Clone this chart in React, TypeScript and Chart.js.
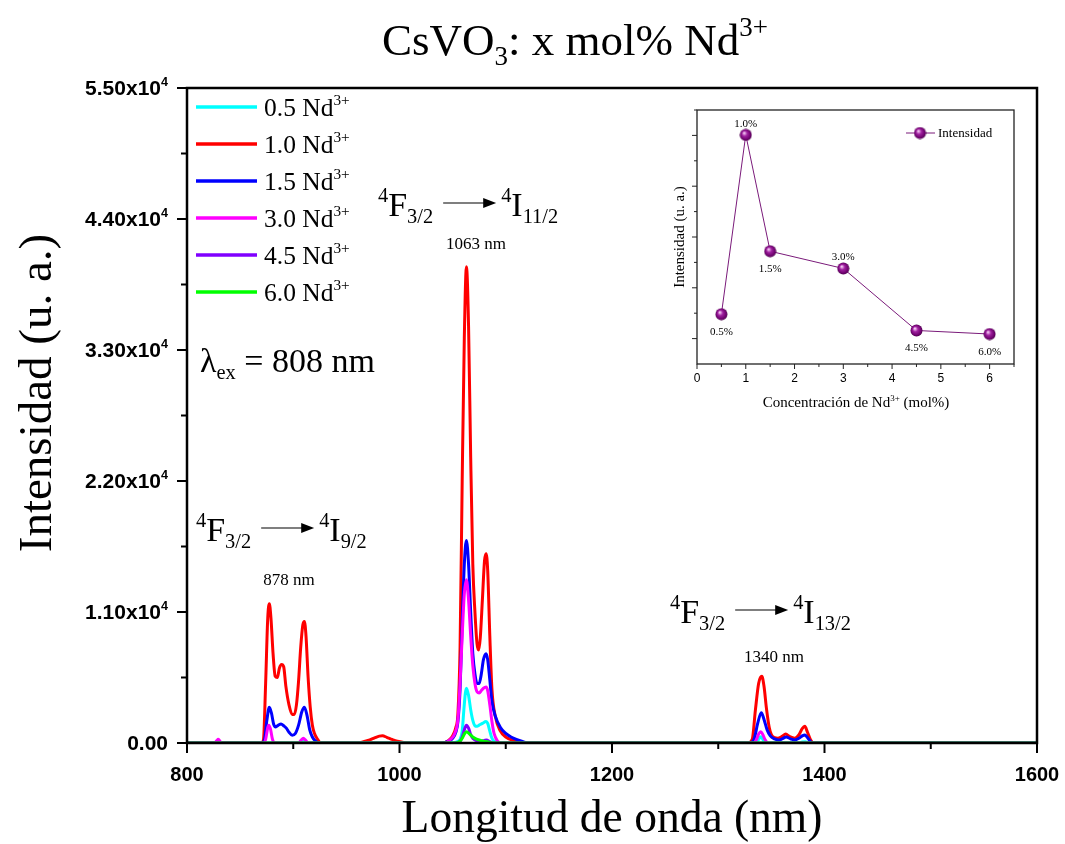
import React, { useEffect, useRef } from "react";
import { Chart, registerables } from "chart.js";
Chart.register(...registerables);

type P = [number, number];
type Part = [string, number]; // 0 normal, 1 sup, 2 sub

const SERIF = '"Liberation Serif", "Times New Roman", serif';
const SANS = '"Liberation Sans", Arial, sans-serif';

// ---------------- data: main spectra (wavelength nm, intensity a.u.) ----------------
const seriesNames = ["0.5", "1.0", "1.5", "3.0", "4.5", "6.0"];
const seriesColors = ["#00FFFF", "#FF0000", "#0000FF", "#FF00FF", "#8000FF", "#00FF00"];

const nd05: P[] = [
  [800, 0], [906, 0], [908, 80], [910, 120], [912, 60], [914, 0],
  [1050, 0], [1054, 100], [1057, 300], [1059, 1000], [1060.5, 2700], [1062, 4200], [1063, 4600], [1065, 4000],
  [1067, 2800], [1069, 1900], [1071, 1450], [1073, 1400], [1075, 1500], [1078, 1650], [1081.5, 1800],
  [1083, 1650], [1085, 1000], [1087, 400], [1090, 100], [1093, 0],
  [1335, 0], [1338, 300], [1340, 530], [1342, 300], [1345, 0],
  [1376, 0], [1379, 80], [1382, 100], [1385, 0], [1600, 0],
];

const nd10: P[] = [
  [800, 0], [870, 0], [872, 300], [874, 5000], [876, 10500], [877.5, 11700], [879, 10500], [881, 7500],
  [883, 5600], [885, 5500], [887, 6300], [889, 6600], [891, 6400], [893, 4800], [896, 3200], [899, 2400],
  [901, 2400], [903, 3200], [905, 5200], [907, 8000], [909, 9900], [910.5, 10200], [912, 9000], [914, 5500],
  [916, 3000], [918, 1500], [920, 800], [923, 300], [926, 0],
  [960, 0], [966, 100], [972, 250], [977, 450], [981, 580], [984, 600], [988, 480], [993, 300], [998, 150],
  [1004, 50], [1010, 0],
  [1040, 0], [1046, 200], [1050, 600], [1053, 1300], [1055, 2500], [1057, 8000], [1059, 22000], [1061, 34000],
  [1063, 40000], [1065, 35000], [1067, 24000], [1069, 15000], [1071, 11000], [1073, 8300], [1074.5, 7800],
  [1076, 8800], [1078, 12000], [1080, 15300], [1081.5, 15900], [1083, 14500], [1085, 9000], [1087, 4500],
  [1090, 2300], [1095, 1000], [1100, 500], [1108, 200], [1116, 0],
  [1328, 0], [1332, 300], [1335, 2800], [1338, 5000], [1341, 5600], [1343, 4800], [1345.5, 2800], [1348, 1300],
  [1350, 700], [1353, 450], [1356, 400], [1360, 550], [1363.5, 750], [1367, 550], [1372, 400], [1376, 700],
  [1379, 1200], [1381.5, 1400], [1384, 900], [1387, 250], [1390, 0], [1600, 0],
];

const nd15: P[] = [
  [800, 0], [870, 0], [873, 300], [875, 1800], [877.5, 3000], [879.5, 2500], [881.5, 1600], [883.5, 1350],
  [886, 1500], [888.5, 1600], [891, 1450], [893.5, 1250], [896, 900], [899, 650], [902, 800], [905, 1500],
  [908, 2600], [910.5, 3000], [913, 2300], [915.5, 1100], [918, 500], [921, 150], [924, 0],
  [1040, 0], [1046, 150], [1050, 400], [1053, 900], [1055, 1800], [1057, 4500], [1059, 10000], [1061, 15000],
  [1063, 17000], [1065, 15000], [1067, 11000], [1069, 7500], [1071, 5800], [1073, 5000], [1075, 5000],
  [1077, 5800], [1079, 7000], [1081.5, 7500], [1083, 7000], [1085, 5300], [1087, 3500], [1090, 2300],
  [1095, 1300], [1100, 800], [1105, 500], [1110, 300], [1115, 150], [1121, 0],
  [1330, 0], [1334, 400], [1337, 1600], [1340.5, 2550], [1343, 2000], [1346, 1100], [1349, 600], [1353, 350],
  [1357, 250], [1360, 350], [1364, 500], [1368, 350], [1372, 250], [1376, 400], [1379, 600], [1381.5, 680],
  [1384, 450], [1387, 100], [1390, 0], [1600, 0],
];

const nd30: P[] = [
  [800, 0], [826, 0], [828, 200], [829.5, 320], [831, 150], [833, 0],
  [872, 0], [874, 300], [876, 1300], [877, 1500], [878.5, 1200], [880.5, 300], [883, 0],
  [905, 0], [907.5, 250], [909.5, 400], [911.5, 250], [914, 0],
  [1042, 0], [1048, 300], [1052, 800], [1055, 2000], [1057, 5000], [1059, 9000], [1061, 12500], [1063, 13700],
  [1065, 12000], [1067, 9000], [1069, 6500], [1071, 5000], [1073, 4300], [1075, 4200], [1077, 4400],
  [1079, 4600], [1081.5, 4700], [1083, 4400], [1085, 3200], [1087, 1800], [1089, 800], [1092, 200], [1095, 0],
  [1333, 0], [1336, 300], [1338, 750], [1340, 950], [1342, 700], [1344, 300], [1347, 0], [1600, 0],
];

const nd45: P[] = [
  [800, 0], [1053, 0], [1057, 150], [1059, 500], [1061, 1100], [1063, 1500], [1065, 1250], [1067, 700],
  [1069, 400], [1071, 250], [1074, 150], [1077, 150], [1080, 220], [1082, 250], [1085, 120], [1089, 0], [1600, 0],
];

const nd60: P[] = [
  [800, 0], [1053, 0], [1057, 150], [1059, 400], [1061, 750], [1063, 950], [1066, 750], [1069, 500],
  [1072, 350], [1075, 250], [1079, 150], [1083, 100], [1088, 0], [1600, 0],
];

const allSeries = [nd05, nd10, nd15, nd30, nd45, nd60];

// axis ticks
const xMajorTicks = [800, 1000, 1200, 1400, 1600];
const yMajorTicks = [0, 11000, 22000, 33000, 44000, 55000];
const yTickLabels = ["0.00", "1.10x10", "2.20x10", "3.30x10", "4.40x10", "5.50x10"];

// ---------------- data: inset ----------------
const insetConc = [0.5, 1.0, 1.5, 3.0, 4.5, 6.0];
const insetIntensity = [0.98, 4.51, 2.22, 1.88, 0.66, 0.59];
const insetLabels = ["0.5%", "1.0%", "1.5%", "3.0%", "4.5%", "6.0%"];
const insetLabelAbove = [false, true, false, true, false, false];
const insetXTicks = [0, 1, 2, 3, 4, 5, 6];
const insetYMajor = [0.5, 1.5, 2.5, 3.5, 4.5];
const insetYMinor = [1, 2, 3, 4, 5];

// ---------------- helpers ----------------
function richWidth(ctx: CanvasRenderingContext2D, parts: Part[], size: number, family: string, weight = "") {
  let w = 0;
  for (const [t, k] of parts) {
    const s = k === 0 ? size : size * 0.6;
    ctx.font = `${weight} ${s}px ${family}`;
    w += ctx.measureText(t).width;
  }
  return w;
}

function drawRich(
  ctx: CanvasRenderingContext2D,
  parts: Part[],
  x: number,
  y: number,
  size: number,
  family: string,
  align: "left" | "center" | "right" = "left",
  weight = ""
) {
  const w = richWidth(ctx, parts, size, family, weight);
  let cx = align === "left" ? x : align === "center" ? x - w / 2 : x - w;
  ctx.textAlign = "left";
  ctx.textBaseline = "alphabetic";
  for (const [t, k] of parts) {
    const s = k === 0 ? size : size * 0.6;
    ctx.font = `${weight} ${s}px ${family}`;
    const dy = k === 1 ? -size * 0.42 : k === 2 ? size * 0.22 : 0;
    ctx.fillText(t, cx, y + dy);
    cx += ctx.measureText(t).width;
  }
  return cx;
}

function seg(ctx: CanvasRenderingContext2D, x1: number, y1: number, x2: number, y2: number) {
  ctx.beginPath();
  ctx.moveTo(x1, y1);
  ctx.lineTo(x2, y2);
  ctx.stroke();
}

function arrow(ctx: CanvasRenderingContext2D, x1: number, x2: number, y: number) {
  ctx.strokeStyle = "#000";
  ctx.fillStyle = "#000";
  ctx.lineWidth = 1.2;
  seg(ctx, x1, y, x2 - 10, y);
  ctx.beginPath();
  ctx.moveTo(x2, y);
  ctx.lineTo(x2 - 13, y - 5);
  ctx.lineTo(x2 - 13, y + 5);
  ctx.closePath();
  ctx.fill();
}

function transition(ctx: CanvasRenderingContext2D, x: number, base: number, lower: string, label: string, labelX: number, labelY: number) {
  ctx.fillStyle = "#000";
  const end = drawRich(ctx, [["4", 1], ["F", 0], ["3/2", 2]], x, base, 34, SERIF);
  const ax1 = end + 10;
  const ax2 = ax1 + 53;
  arrow(ctx, ax1, ax2, base - 13);
  ctx.fillStyle = "#000";
  drawRich(ctx, [["4", 1], ["I", 0], [lower, 2]], ax2 + 5, base, 34, SERIF);
  drawRich(ctx, [[label, 0]], labelX, labelY, 17, SERIF, "center");
}

function makeSphere(): HTMLCanvasElement {
  const c = document.createElement("canvas");
  c.width = 13;
  c.height = 13;
  const g = c.getContext("2d")!;
  const grad = g.createRadialGradient(4.8, 4.5, 0.5, 6.5, 6.5, 6.5);
  grad.addColorStop(0, "#F4C8F4");
  grad.addColorStop(0.35, "#A020A0");
  grad.addColorStop(0.8, "#6A006A");
  grad.addColorStop(1, "#3A003A");
  g.fillStyle = grad;
  g.beginPath();
  g.arc(6.5, 6.5, 6, 0, Math.PI * 2);
  g.fill();
  return c;
}

// ---------------- plugins ----------------
const mainDeco = {
  id: "mainDeco",
  afterDraw(chart: any) {
    const { ctx, chartArea: a } = chart;
    const xs = chart.scales.x;
    const ys = chart.scales.y;
    ctx.save();
    ctx.strokeStyle = "#000";
    ctx.lineWidth = 2.5;
    ctx.strokeRect(a.left, a.top, a.right - a.left, a.bottom - a.top);

    // x ticks
    ctx.lineWidth = 2;
    for (let i = 0; i < xMajorTicks.length; i++) {
      const v = xMajorTicks[i];
      const px = xs.getPixelForValue(v);
      seg(ctx, px, a.bottom, px, a.bottom + 10);
      if (i < xMajorTicks.length - 1) {
        const mv = (v + xMajorTicks[i + 1]) / 2;
        const mp = xs.getPixelForValue(mv);
        seg(ctx, mp, a.bottom, mp, a.bottom + 6);
      }
      ctx.fillStyle = "#000";
      ctx.font = `bold 20px ${SANS}`;
      ctx.textAlign = "center";
      ctx.textBaseline = "alphabetic";
      ctx.fillText(String(v), px, a.bottom + 38);
    }
    // y ticks
    for (let i = 0; i < yMajorTicks.length; i++) {
      const v = yMajorTicks[i];
      const py = ys.getPixelForValue(v);
      seg(ctx, a.left, py, a.left - 10, py);
      if (i < yMajorTicks.length - 1) {
        const mp = ys.getPixelForValue((v + yMajorTicks[i + 1]) / 2);
        seg(ctx, a.left, mp, a.left - 6, mp);
      }
      ctx.fillStyle = "#000";
      const parts: Part[] = i === 0 ? [[yTickLabels[i], 0]] : [[yTickLabels[i], 0], ["4", 1]];
      drawRich(ctx, parts, a.left - 19, py + 7, 21, SANS, "right", "bold");
    }

    // title
    ctx.fillStyle = "#000";
    drawRich(ctx, [["CsVO", 0], ["3", 2], [": x mol% Nd", 0], ["3+", 1]], 575, 55, 45, SERIF, "center");
    // x axis title
    drawRich(ctx, [["Longitud de onda (nm)", 0]], 612, 832, 45.5, SERIF, "center");
    // y axis title
    ctx.save();
    ctx.translate(51, 393);
    ctx.rotate(-Math.PI / 2);
    drawRich(ctx, [["Intensidad (u. a.)", 0]], 0, 0, 47, SERIF, "center");
    ctx.restore();

    // legend
    for (let i = 0; i < seriesNames.length; i++) {
      const y = 107 + 37 * i;
      ctx.strokeStyle = seriesColors[i];
      ctx.lineWidth = 3.5;
      seg(ctx, 196, y, 257, y);
      ctx.fillStyle = "#000";
      drawRich(ctx, [[seriesNames[i] + " Nd", 0], ["3+", 1]], 264, y + 9, 25.5, SERIF);
    }

    // excitation
    drawRich(ctx, [["\u03BB", 0], ["ex", 2], [" = 808 nm", 0]], 200, 372, 34, SERIF);

    // transitions
    transition(ctx, 378, 216, "11/2", "1063 nm", 476, 249);
    transition(ctx, 196, 541, "9/2", "878 nm", 289, 585);
    transition(ctx, 670, 623, "13/2", "1340 nm", 774, 662);
    ctx.restore();
  },
};

const IOX = 640;
const IOY = 90;

const insetDeco = {
  id: "insetDeco",
  afterDraw(chart: any) {
    const { ctx, chartArea: a } = chart;
    const xs = chart.scales.x;
    const ys = chart.scales.y;
    ctx.save();
    ctx.strokeStyle = "#222";
    ctx.lineWidth = 1.3;
    ctx.strokeRect(a.left, a.top, a.right - a.left, a.bottom - a.top);
    ctx.lineWidth = 1;
    for (let i = 0; i < insetXTicks.length; i++) {
      const v = insetXTicks[i];
      const px = xs.getPixelForValue(v);
      seg(ctx, px, a.bottom, px, a.bottom + 5);
      const mp = xs.getPixelForValue(v + 0.5);
      seg(ctx, mp, a.bottom, mp, a.bottom + 3);
      ctx.fillStyle = "#000";
      ctx.font = `12px ${SANS}`;
      ctx.textAlign = "center";
      ctx.textBaseline = "alphabetic";
      ctx.fillText(String(v), px, a.bottom + 18);
    }
    for (const v of insetYMajor) {
      const py = ys.getPixelForValue(v);
      seg(ctx, a.left, py, a.left - 5, py);
    }
    for (const v of insetYMinor) {
      const py = ys.getPixelForValue(v);
      seg(ctx, a.left, py, a.left - 3, py);
    }
    ctx.fillStyle = "#000";
    drawRich(ctx, [["Concentraci\u00F3n de Nd", 0], ["3+", 1], [" (mol%)", 0]], 856 - IOX, 407 - IOY, 15, SERIF, "center");
    ctx.save();
    ctx.translate(684 - IOX, 237 - IOY);
    ctx.rotate(-Math.PI / 2);
    drawRich(ctx, [["Intensidad (u. a.)", 0]], 0, 0, 15, SERIF, "center");
    ctx.restore();

    // data labels
    for (let i = 0; i < insetConc.length; i++) {
      const px = xs.getPixelForValue(insetConc[i]);
      const py = ys.getPixelForValue(insetIntensity[i]);
      const ly = insetLabelAbove[i] ? py - 8 : py + 21;
      drawRich(ctx, [[insetLabels[i], 0]], px, ly, 11, SERIF, "center");
    }

    // legend
    const ly = 133 - IOY;
    ctx.strokeStyle = "#7A1A7A";
    ctx.lineWidth = 1;
    seg(ctx, 906 - IOX, ly, 935 - IOX, ly);
    const sp = (chart as any).$sphere as HTMLCanvasElement;
    if (sp) ctx.drawImage(sp, 920 - IOX - sp.width / 2, ly - sp.height / 2);
    ctx.fillStyle = "#000";
    drawRich(ctx, [["Intensidad", 0]], 938 - IOX, ly + 4, 13, SERIF);
    ctx.restore();
  },
};

export default function App() {
  const mainRef = useRef<HTMLCanvasElement>(null);
  const insetRef = useRef<HTMLCanvasElement>(null);

  useEffect(() => {
    const datasets = allSeries.map((s, i) => ({
      label: seriesNames[i],
      data: s.map(([x, y]) => ({ x, y })),
      borderColor: seriesColors[i],
      backgroundColor: seriesColors[i],
      borderWidth: 3,
      pointRadius: 0,
      showLine: true,
      cubicInterpolationMode: "monotone" as const,
      order: seriesNames.length - i,
    }));
    const main = new Chart(mainRef.current!, {
      type: "scatter",
      data: { datasets },
      options: {
        animation: false,
        responsive: false,
        events: [],
        layout: { padding: { left: 187, right: 28, top: 88, bottom: 101 } },
        plugins: { legend: { display: false }, tooltip: { enabled: false } },
        scales: {
          x: { type: "linear", min: 800, max: 1600, display: false },
          y: { type: "linear", min: 0, max: 55000, display: false },
        },
      },
      plugins: [mainDeco],
    });

    const sphere = makeSphere();
    const inset = new Chart(insetRef.current!, {
      type: "scatter",
      data: {
        datasets: [
          {
            label: "Intensidad",
            data: insetConc.map((x, i) => ({ x, y: insetIntensity[i] })),
            borderColor: "#7A1A7A",
            borderWidth: 1,
            showLine: true,
            pointStyle: sphere as any,
            pointRadius: 6,
          },
        ],
      },
      options: {
        animation: false,
        responsive: false,
        events: [],
        layout: { padding: { left: 697 - IOX, right: 400 - (1014 - IOX), top: 110 - IOY, bottom: 340 - (364 - IOY) } },
        plugins: { legend: { display: false }, tooltip: { enabled: false } },
        scales: {
          x: { type: "linear", min: 0, max: 6.5, display: false },
          y: { type: "linear", min: 0, max: 5, display: false },
        },
      },
      plugins: [insetDeco],
    });
    (inset as any).$sphere = sphere;
    inset.draw();

    return () => {
      main.destroy();
      inset.destroy();
    };
  }, []);

  return (
    <div style={{ position: "absolute", left: 0, top: 0, width: 1065, height: 844, background: "#fff" }}>
      <canvas ref={mainRef} width={1065} height={844} style={{ position: "absolute", left: 0, top: 0 }} />
      <canvas ref={insetRef} width={400} height={340} style={{ position: "absolute", left: IOX, top: IOY }} />
    </div>
  );
}
